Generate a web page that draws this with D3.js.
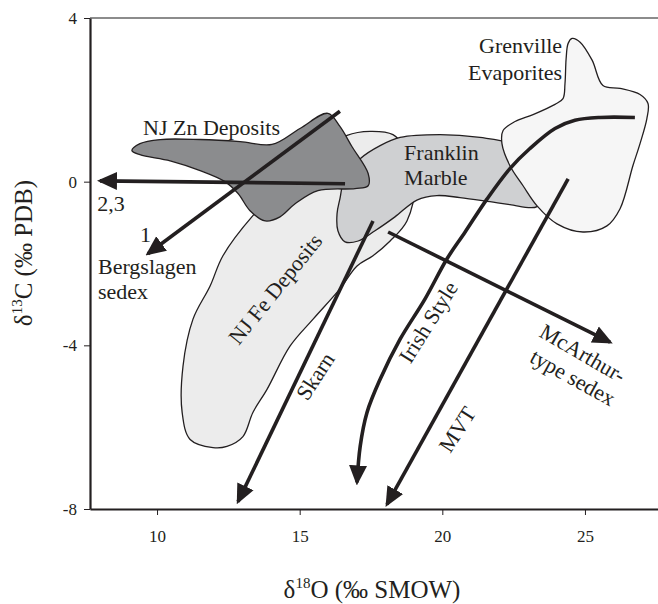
<!DOCTYPE html>
<html lang="en">
<head>
<meta charset="UTF-8">
<title>carbon oxygen isotopes</title>
<style>
  body { margin: 0; background: #fff; }
  text { font-family: "Liberation Serif", "DejaVu Serif", serif; fill: #231f20; }
</style>
</head>
<body>
<svg id="chart"></svg>
<script src="https://cdn.jsdelivr.net/npm/d3@7/dist/d3.min.js"></script>
<script>
var width = 658, height = 604;

// axis ticks
var xTicks = [10, 15, 20, 25];
var yTicks = [-8, -4, 0, 4];

// fields, [d18O, d13C]
var feDeposits = [[16.66,1.13],[17.47,1.23],[18.27,1.15],[18.69,0.81],[19.04,-0.05],[18.76,-0.96],
  [18.17,-1.45],[17.57,-1.81],[17.01,-2.06],[16.41,-2.62],[15.47,-3.36],[14.66,-4.02],[13.86,-5.07],
  [13.36,-5.64],[13.01,-6.23],[12.45,-6.47],[11.96,-6.50],[11.16,-6.30],[10.88,-5.64],[10.91,-4.51],
  [11.26,-3.36],[11.86,-2.55],[12.31,-1.81],[13.36,-0.83],[14.49,-0.05],[15.71,0.69]];

var franklinMarble = [[16.41,-0.42],[16.59,0.12],[17.12,0.56],[17.82,0.88],[18.52,1.08],[19.92,1.15],
  [21.32,1.08],[22.37,0.93],[23.25,0.44],[23.60,-0.17],[23.32,-0.61],[22.37,-0.56],[21.67,-0.49],
  [20.62,-0.39],[19.81,-0.34],[19.11,-0.45],[18.34,-0.86],[17.64,-1.20],[17.05,-1.45],[16.59,-1.47],
  [16.34,-1.20],[16.31,-0.78]];

var grenvilleEvap = [[24.55,3.50],[24.83,3.41],[25.25,2.97],[25.63,2.35],[26.23,2.28],[26.93,2.13],
  [27.21,1.91],[27.17,1.54],[26.93,0.93],[26.68,0.39],[26.23,-0.66],[25.77,-1.08],[24.93,-1.23],
  [24.02,-1.03],[23.32,-0.59],[22.83,-0.10],[22.37,0.39],[22.09,0.93],[22.13,1.25],[22.55,1.47],
  [23.18,1.64],[23.95,1.89],[24.23,2.03],[24.30,2.40],[24.34,3.01],[24.41,3.38]];

var znDeposits = [[9.12,0.76],[9.40,0.93],[10.11,1.03],[11.51,1.03],[12.91,0.98],[14.03,0.91],
  [15.01,1.30],[15.99,1.67],[16.41,1.35],[16.83,0.86],[17.40,0.20],[17.40,-0.10],[16.94,-0.17],
  [15.64,-0.22],[14.84,-0.54],[14.31,-0.86],[13.79,-0.96],[13.26,-0.71],[12.84,-0.29],[12.38,0.00],
  [11.51,0.27],[10.46,0.51],[9.40,0.66]];

// trends: start, end
var trendZn23 = [[16.59,-0.05],[8.00,0.02]];
var trendBergslagen = [[16.41,1.72],[9.68,-1.76]];
var trendSkarn = [[17.57,-0.96],[12.84,-7.82]];
var trendMcArthur = [[18.10,-1.23],[25.88,-3.92]];
var trendMVT = [[24.41,0.07],[18.06,-7.89]];
var trendIrish = [[26.75,1.57],[25.53,1.57],[24.65,1.50],[23.95,1.30],[23.07,0.81],[22.37,0.32],
  [21.57,-0.42],[20.80,-1.23],[20.16,-1.89],[19.39,-2.87],[18.52,-3.85],[17.82,-4.83],[17.36,-5.64],
  [17.12,-6.47],[17.01,-7.35]];

var svg = d3.select("#chart").attr("width", width).attr("height", height);

var x = d3.scaleLinear().domain([7.65, 27.56]).range([90, 658]);
var y = d3.scaleLinear().domain([-8, 4]).range([509, 18]);

var shapeLine = d3.line()
  .x(function(d){ return x(d[0]); })
  .y(function(d){ return y(d[1]); })
  .curve(d3.curveCatmullRomClosed.alpha(0.5));

var trendLine = d3.line()
  .x(function(d){ return x(d[0]); })
  .y(function(d){ return y(d[1]); })
  .curve(d3.curveCatmullRom.alpha(0.5));

svg.append("defs").append("marker")
  .attr("id", "head")
  .attr("viewBox", "0 -10 20 20")
  .attr("refX", 17).attr("refY", 0)
  .attr("markerWidth", 20).attr("markerHeight", 20)
  .attr("markerUnits", "userSpaceOnUse")
  .attr("orient", "auto")
  .append("path")
  .attr("d", "M0,-9L20,0L0,9Z")
  .attr("fill", "#231f20");

// fields, back to front
var fields = [
  { pts: feDeposits, fill: "#ececec" },
  { pts: franklinMarble, fill: "#cfd0d2" },
  { pts: grenvilleEvap, fill: "#f6f6f6" },
  { pts: znDeposits, fill: "#8b8c8e" }
];
svg.selectAll("path.field")
  .data(fields)
  .enter()
  .append("path")
  .attr("class", "field")
  .attr("d", function(d){ return shapeLine(d.pts); })
  .attr("fill", function(d){ return d.fill; })
  .attr("stroke", "#231f20")
  .attr("stroke-width", 1.3);

// top frame line
svg.append("line")
  .attr("x1", x.range()[0]).attr("x2", x.range()[1])
  .attr("y1", y(4)).attr("y2", y(4))
  .attr("stroke", "#666").attr("stroke-width", 1.3);

// arrows
var trends = [trendZn23, trendBergslagen, trendSkarn, trendMcArthur, trendMVT, trendIrish];
svg.selectAll("path.trend")
  .data(trends)
  .enter()
  .append("path")
  .attr("class", "trend")
  .attr("d", trendLine)
  .attr("fill", "none")
  .attr("stroke", "#231f20")
  .attr("stroke-width", 3.6)
  .attr("marker-end", "url(#head)");

// axes
var xAxis = svg.append("g")
  .attr("transform", "translate(0," + y(-8) + ")")
  .call(d3.axisBottom(x).tickValues(xTicks).tickSize(6).tickSizeOuter(0).tickPadding(15)
    .tickFormat(function(d){ return String(d); }));
var yAxis = svg.append("g")
  .attr("transform", "translate(" + x(7.65) + ",0)")
  .call(d3.axisLeft(y).tickValues(yTicks).tickSize(6).tickSizeOuter(0).tickPadding(7)
    .tickFormat(function(d){ return String(d); }));

[xAxis, yAxis].forEach(function(g){
  g.select(".domain").attr("stroke", "#231f20").attr("stroke-width", 2.2);
  g.selectAll(".tick line").attr("stroke", "#231f20").attr("stroke-width", 1);
  g.selectAll(".tick text")
    .attr("font-family", "Liberation Serif")
    .attr("font-size", 17)
    .attr("fill", "#231f20");
});

// axis titles
var xTitle = svg.append("text")
  .attr("x", 372).attr("y", 598)
  .attr("text-anchor", "middle")
  .attr("font-size", 25);
xTitle.append("tspan").text("\u03b4");
xTitle.append("tspan").attr("font-size", 15).attr("dy", -10).text("18");
xTitle.append("tspan").attr("dy", 10).text("O (\u2030 SMOW)");

var yTitle = svg.append("text")
  .attr("transform", "translate(32,253) rotate(-90)")
  .attr("text-anchor", "middle")
  .attr("font-size", 25);
yTitle.append("tspan").text("\u03b4");
yTitle.append("tspan").attr("font-size", 15).attr("dy", -10).text("13");
yTitle.append("tspan").attr("dy", 10).text("C (\u2030 PDB)");

// field and trend labels
var labels = [
  { t: "NJ Zn Deposits", x: 9.51, y: 1.15, a: "start", r: 0 },
  { t: "Grenville", x: 24.20, y: 3.14, a: "end", r: 0 },
  { t: "Evaporites", x: 24.20, y: 2.48, a: "end", r: 0 },
  { t: "Franklin", x: 18.66, y: 0.54, a: "start", r: 0 },
  { t: "Marble", x: 18.66, y: -0.07, a: "start", r: 0 },
  { t: "2,3", x: 7.90, y: -0.71, a: "start", r: 0 },
  { t: "1", x: 9.40, y: -1.47, a: "start", r: 0 },
  { t: "Bergslagen", x: 7.93, y: -2.25, a: "start", r: 0 },
  { t: "sedex", x: 7.93, y: -2.87, a: "start", r: 0 }
];
svg.selectAll("text.lab")
  .data(labels)
  .enter()
  .append("text")
  .attr("class", "lab")
  .attr("x", function(d){ return x(d.x); })
  .attr("y", function(d){ return y(d.y); })
  .attr("text-anchor", function(d){ return d.a; })
  .attr("font-size", 22)
  .text(function(d){ return d.t; });

var rotLabels = [
  { t: "NJ Fe Deposits", x: 14.14, y: -2.62, r: -51 },
  { t: "Skarn", x: 15.54, y: -4.75, r: -57 },
  { t: "Irish Style", x: 19.50, y: -3.43, r: -58 },
  { t: "MVT", x: 20.52, y: -6.05, r: -57 },
  { t: "McArthur-", x: 24.93, y: -4.19, r: 30 },
  { t: "type sedex", x: 24.58, y: -4.78, r: 29 }
];
svg.selectAll("text.rlab")
  .data(rotLabels)
  .enter()
  .append("text")
  .attr("class", "rlab")
  .attr("transform", function(d){
    return "translate(" + x(d.x) + "," + y(d.y) + ") rotate(" + d.r + ")";
  })
  .attr("text-anchor", "middle")
  .attr("dy", "0.35em")
  .attr("font-size", 22)
  .text(function(d){ return d.t; });
</script>
</body>
</html>
